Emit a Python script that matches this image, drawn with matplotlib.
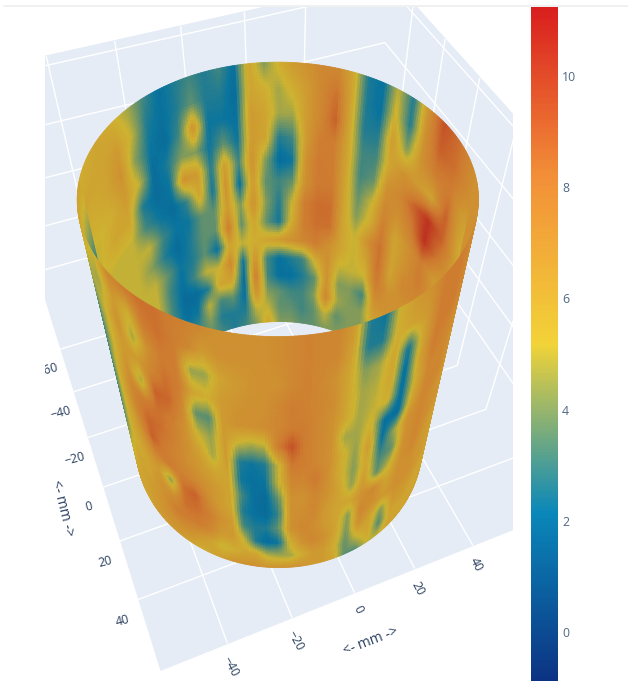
import numpy as np
import matplotlib
matplotlib.use("Agg")
import matplotlib.pyplot as plt
from matplotlib.colors import LinearSegmentedColormap, Normalize
from matplotlib.cm import ScalarMappable
from matplotlib.patches import Rectangle
from matplotlib.lines import Line2D

# ---------- data (wall thickness value on the cylinder) ----------
x_ticks = [-40, -20, 0, 20, 40]
y_ticks = [-60, -40, -20, 0, 20, 40]
cbar_ticks = [0, 2, 4, 6, 8, 10]
value_min = -0.88
value_max = 11.24

# rows: top rim -> bottom rim, columns: screen left -> screen right (far half, seen from inside)
back_values = [
 [5.5,6,5.5,4.5,3,2,2.5,3,2.5,3,2,6,4,5.5,6.5,7,7.5,7.5,6,2.5,2,5,2.5,7,9.5,8.5,7],
 [6,6,6.5,5,2.5,2,2.5,3.5,2.5,2.5,1.8,6,5.5,4.5,5.5,6.5,7.5,8.5,6,2.5,2,5.5,2.5,7,9,8.5,7],
 [5.5,6,7,4,2.2,1.8,3,7,2.2,2.2,2,6.5,6,4.5,4.5,6.5,7.5,9,6,2.5,2.5,6.5,4,7,8,8,6],
 [5,5.5,6.5,5,1.8,2.5,4,4,2.2,3.5,2.2,6.5,6,2.5,3,6.5,8,8,6,3,3,6,7,6.5,6,9,5.5],
 [5,6,6,2.5,1.8,2.2,7,6.5,2.5,6.5,3,7,4,1.8,2.2,7,8.2,8,6,3,3.5,7,7.5,9,10.5,9,6],
 [5,5,5,3,2.2,1.8,2.8,6,2.2,7,2,6.5,3.5,3,3.5,7,8.2,8.2,6,3.5,5,7.5,7,8,10.5,8,6],
 [5,5,5,5,3,2.2,2.2,3.5,3.5,6.5,4,7,4,2.5,5,8,8.6,8.6,6,4,5.5,8,6,7,8,6.5,6],
 [5,5,5,4,2.5,1.8,2.5,3.5,3.5,8,3.5,6,3.5,2.2,5.5,8,8.5,8.5,6,5,7,8.5,6,7,8,7,6],
 [5,5,5,5,3.5,2.2,2.5,3.5,2,6,5,5.5,6,6.5,7,7.5,8,7,6,5,6,8.5,6,7.5,7.5,7,6],
 [5,5,5,5,3,2,3,5,5,7.5,2.2,7,3,2,2.5,3,5.5,7,5,5,5,8,7,7,7,7,6],
 [5,5,5,5,3,1.8,1.8,2.5,6,6,1.8,8,3,2,2,2.5,3.5,7,4,4,3,7,7,7,7,7,6],
 [5,5,5,5,3,2,2.2,5,3,3.5,2,7,4,3.5,3,3,4,7.5,4.5,4,4,6,6.5,7,7,7,6],
 [5,5,5,5,3,2.5,3,4,2.5,2.5,2.5,5,5,3.5,3.5,3,3.5,5,3.5,4,4,5,6,7,7,7,6],
 [5,5,5,5,4,3,3,3.5,3,2.5,3,4,6,4,4,3.5,3.5,4,4,4,4.5,5,6,7,7,7,6],
]
# rows: top rim -> bottom rim, columns: screen left -> screen right (near half, seen from outside)
front_values = [
 [6,5,7.5,8,8.5,8.5,8,7.8,7.5,7,7,7,7,7.2,7.5,7.8,7.5,7.5,6.5,2.5,2.2,5.5,6.5,7,8,8,7],
 [5,4.5,6.5,5.5,8,8.5,8,7.5,6.5,7,7,7,7,7.2,7.5,7.8,7.5,7.5,6.2,2.5,2.5,5.5,6,6.5,8,8,7],
 [4,5,7,4.5,7,8,8,4.3,4.3,6,6.5,6.8,7,7,7.5,7.8,7.5,7,5.8,4,4.5,6,2.2,6,8,8,7],
 [3,5,6.5,6.5,7.5,8.5,8,6,5.5,6.5,6.8,7,7,7.5,8,7.8,7.5,7.2,5.8,4.5,4.8,6,1.8,6,8,7.5,7],
 [2.5,5,7,4.5,9,8.8,7.5,3.5,3.3,6.5,7,7,7.2,7.5,8,8,7.5,7,5.8,4.5,5,5.5,1.8,5.5,7.5,7.5,6.5],
 [2.5,5.5,7.5,8,8.5,8,7,5,4.3,6.5,5,4.5,4.8,8,9.5,8,7.5,7,4.5,4.5,5.5,2,1.8,6,7.5,7.5,6.5],
 [2.5,5.5,7.5,8.8,8.5,7.8,7,6,4.5,6.5,2.5,2.2,2.5,5,8.2,8,7.5,7,5.5,4.2,6.5,2,4.5,7,7.5,7,6.5],
 [2.5,5.5,7,9,8,7.5,7,6.5,6,6,2.3,2.0,2.2,5,7.5,7.5,8.2,7,5.5,4,6,3,3.5,7,7.5,7,6.5],
 [2.8,5.5,6.5,7.5,8,7.8,7.5,7,6.5,6,3,2,1.8,3.5,7,7,7.5,7,6,4.2,6.5,3.5,5,7,7.5,6.5,6],
 [3,5.5,6,6.5,4,8.5,9,7.5,6.5,6,2.5,2,1.8,2.8,7,7.2,7.5,6.5,6,6,7,7.5,6,7,7,6.5,6],
 [4,6,6,7,7,8.5,8.5,8,7,6.5,3,2.5,2.5,3.5,7,7.5,7.2,6.5,6,4,7.5,7,6.5,7,7,6.5,6],
 [5,6,6.5,7,8,8,8,7.5,6.5,6.5,5,2.5,1.8,2.2,5.5,7,7.5,7,6,3.8,7,6,4,6.5,6.5,6,6],
 [6,6,6.5,7,7,7,6.5,6,5,5.5,6,6,4.8,4.5,4.5,5.5,6.5,6.5,5.5,3.5,5,6,3.2,6,6,6,6],
 [6,6,6.5,6.5,6.5,6,5.5,6,6.5,7,7,7,7,7,7,7,6.5,6.5,6,3.5,3.2,5,5,6,6,6,6],
]

# ---------- style ----------
W_PX, H_PX = 628, 681
INK = "#2a3f5f"
PANE = "#e5ecf6"
FONT = "Open Sans"
portland = LinearSegmentedColormap.from_list(
    "portland",
    [(0.0, "#0c3383"), (0.25, "#0a88ba"), (0.5, "#f2d338"), (0.75, "#f28f38"), (1.0, "#d91e1e")],
)
norm = Normalize(value_min, value_max)
LIGHT = 0.85

plt.rcParams["font.family"] = [FONT, "DejaVu Sans"]
plt.rcParams["grid.color"] = "white"
plt.rcParams["grid.linewidth"] = 1.0

RADIUS = 47.8
HEIGHT = 113.0
CENTER_Y = 2.0
XLIM = (-60.0, 69.0)
YLIM = (62.0, -75.0)
ZMAX = 109.0
ELEV, AZIM = 50.0, -112.0
FOCAL = 0.241
ZOOM = 1.017
DEPTH_K = 0.123   # screen narrowing of the far half / widening of the near half

fig = plt.figure(figsize=(W_PX / 100, H_PX / 100), dpi=100, facecolor="white")
AX_SIDE = 700.0
CX, CY = 282.0, 306.0
left = CX - 0.5135 * AX_SIDE
bottom = (H_PX - CY) - 0.5135 * AX_SIDE
ax = fig.add_axes([left / W_PX, bottom / H_PX, AX_SIDE / W_PX, AX_SIDE / H_PX], projection="3d")
ax.set_facecolor("none")
ax.patch.set_alpha(0)

# ---------- cylinder surface ----------
def shade_rows_cols(table, u_dense, t_dense):
    """Colour shading between the read vertices, as a GL surface does."""
    table = np.asarray(table, dtype=float)
    u_src = np.linspace(-1, 1, table.shape[1])
    t_src = np.linspace(0, 1, table.shape[0])
    by_col = np.array([np.interp(u_dense, u_src, r) for r in table])
    return np.array([np.interp(t_dense, t_src, c) for c in by_col.T]).T

n_half = 200
n_rows = 110
t_mid = (np.arange(n_rows) + 0.5) / n_rows
a_front = np.linspace(-90, 90, n_half + 1)
a_back = np.linspace(90, 270, n_half + 1)
a_edges = np.deg2rad(np.concatenate([a_front, a_back[1:]]))
a_front_mid = np.deg2rad((a_front[:-1] + a_front[1:]) / 2)
a_back_mid = np.deg2rad((a_back[:-1] + a_back[1:]) / 2)

u_front = np.sin(a_front_mid) / (1 - DEPTH_K * np.cos(a_front_mid))
u_back = np.sin(a_back_mid) / (1 - DEPTH_K * np.cos(a_back_mid))
v_front = shade_rows_cols(front_values, u_front, t_mid)
v_back = shade_rows_cols(back_values, u_back, t_mid)
v_ring = np.hstack([v_front, v_back])

az = np.deg2rad(AZIM)
right_dir = np.array([-np.sin(az), -np.cos(az)])       # data x, y (y axis reversed)
toward_dir = np.array([np.cos(az), -np.sin(az)])

A, Z = np.meshgrid(a_edges, HEIGHT * (1 - np.linspace(0, 1, n_rows + 1)))
X = RADIUS * (np.sin(A) * right_dir[0] + np.cos(A) * toward_dir[0])
Y = CENTER_Y + RADIUS * (np.sin(A) * right_dir[1] + np.cos(A) * toward_dir[1])

colors = portland(norm(v_ring))
colors[..., :3] *= LIGHT
ax.plot_surface(X, Y, Z, facecolors=colors, rstride=1, cstride=1, shade=False,
                linewidth=0.6, antialiased=True)

# ---------- scene ----------
ax.set_xlim(*XLIM)
ax.set_ylim(*YLIM)
ax.set_zlim(0, ZMAX)
ax.set_box_aspect((abs(XLIM[1] - XLIM[0]), abs(YLIM[1] - YLIM[0]), ZMAX), zoom=ZOOM)
ax.view_init(elev=ELEV, azim=AZIM)
ax.set_proj_type("persp", focal_length=FOCAL)

ax.set_xticks(x_ticks)
ax.set_yticks(y_ticks)
ax.set_zticks([26, 46, 66, 86, 106])
ax.set_zticklabels([])
clear = (1, 1, 1, 0)
for axis in (ax.xaxis, ax.yaxis, ax.zaxis):
    axis.set_pane_color(PANE)
    axis.pane.set_edgecolor(PANE)
    axis.line.set_color(clear)
ax.tick_params(axis="x", colors=INK, labelsize=8.8, labelrotation=-62, pad=-3, color=clear)
ax.tick_params(axis="y", colors=INK, labelsize=8.8, labelrotation=15, pad=3, color=clear)
ax.tick_params(axis="z", color=clear)
for axis in (ax.xaxis, ax.yaxis, ax.zaxis):
    axis._axinfo["tick"]["inward_factor"] = 0
    axis._axinfo["tick"]["outward_factor"] = 0

# the plot canvas ends at x=45, x=513 and y=7
for (x0, y0, w, h) in [(0, 0, 45, H_PX), (513, 0, W_PX - 513, H_PX), (0, H_PX - 7, W_PX, 7)]:
    fig.add_artist(Rectangle((x0 / W_PX, y0 / H_PX), w / W_PX, h / H_PX, transform=fig.transFigure,
                             facecolor="white", edgecolor="none", zorder=1))
fig.add_artist(Line2D([4 / W_PX, 1], [1 - 5.5 / H_PX] * 2, transform=fig.transFigure,
                      color="#eeeeee", lw=1.2, zorder=2))

# axis titles
fig.text(371 / W_PX, 1 - 641 / H_PX, "<- mm ->", color=INK, fontsize=10, rotation=21,
         ha="center", va="center", zorder=3)
fig.text(62 / W_PX, 1 - 508 / H_PX, "<- mm ->", color=INK, fontsize=10, rotation=-76,
         ha="center", va="center", zorder=3)

# ---------- colour bar ----------
cax = fig.add_axes([531 / W_PX, 0, 27 / W_PX, (H_PX - 7) / H_PX], zorder=4)
cb = fig.colorbar(ScalarMappable(norm=norm, cmap=portland), cax=cax, ticks=cbar_ticks)
cb.outline.set_visible(False)
cb.ax.tick_params(length=0, pad=3, labelsize=8.8, labelcolor="#506784")

fig.savefig("out.png", dpi=100)
